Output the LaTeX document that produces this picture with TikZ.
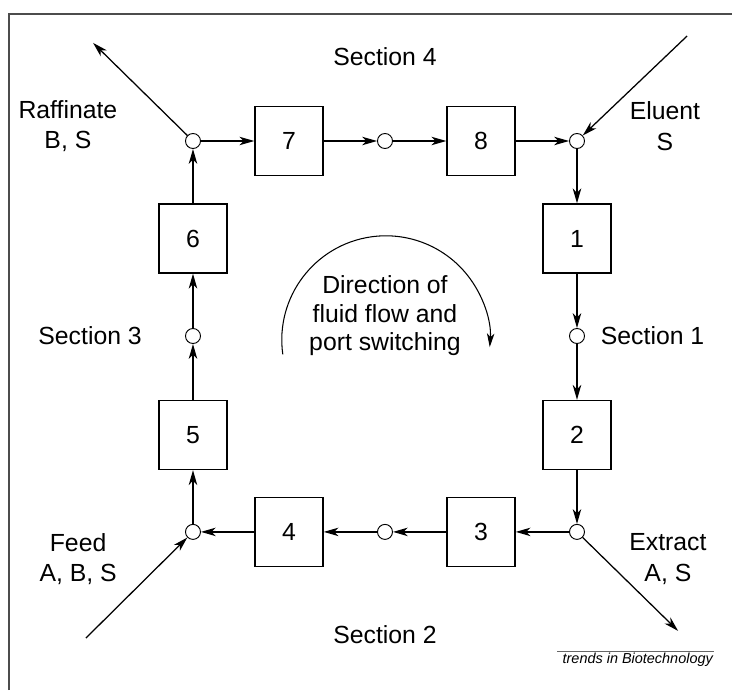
\documentclass[tikz,border=0pt]{standalone}
\usepackage{fontspec}
\setmainfont{Liberation Sans}
\usetikzlibrary{shapes, arrows.meta, positioning}

\begin{document}
\begin{tikzpicture}[
    column/.style={
        rectangle,
        minimum width=2.27cm,   minimum height=2.3cm,
        draw=black,
        line width=1.3pt,
        font=\fontsize{23.5}{27}\selectfont
    },
    port/.style={
        circle,
        minimum size=0.5cm,
        inner sep=0pt,
        draw=black,
        line width=0.9pt,
        fill=white
    },
    streamtext/.style={
        align=center,
        font=\fontsize{23.5}{29}\selectfont
    },
    flow/.style={line width=1.2pt, -{Stealth[length=14pt, width=8pt, inset=4pt]}},
    swirl/.style={line width=1pt, -{Stealth[length=13pt, width=7pt, inset=3.5pt]}}
]

\useasboundingbox (-12.833, -11.8) rectangle (11.567, 11.2);

\draw[black!70, line width=1.4pt] (-12.533, -11.8) -- (-12.533, 10.733) -- (11.567, 10.733);

% ports
\node[port] (raffport)    at (-6.4,  6.5)  {};
\node[port] (sec4port)    at ( 0,    6.5)  {};
\node[port] (eluentport)  at ( 6.4,  6.5)  {};
\node[port] (sec1port)    at ( 6.4,  0)    {};
\node[port] (extractport) at ( 6.4, -6.53) {};
\node[port] (sec2port)    at ( 0,   -6.53) {};
\node[port] (feedport)    at (-6.4, -6.53) {};
\node[port] (sec3port)    at (-6.4,  0)    {};

% columns
\node[column] (col1) at ( 6.4,  3.25) {1};
\node[column] (col2) at ( 6.4, -3.3)  {2};
\node[column] (col3) at ( 3.2, -6.53) {3};
\node[column] (col4) at (-3.2, -6.53) {4};
\node[column] (col5) at (-6.4, -3.3)  {5};
\node[column] (col6) at (-6.4,  3.25) {6};
\node[column] (col7) at (-3.2,  6.5)  {7};
\node[column] (col8) at ( 3.2,  6.5)  {8};

\draw[flow] (raffport) -- (col7);
\draw[flow] (col7) -- (sec4port);
\draw[flow] (sec4port) -- (col8);
\draw[flow] (col8) -- (eluentport);
\draw[flow] (eluentport) -- (col1);
\draw[flow] (col1) -- (sec1port);
\draw[flow] (sec1port) -- (col2);
\draw[flow] (col2) -- (extractport);
\draw[flow] (extractport) -- (col3);
\draw[flow] (col3) -- (sec2port);
\draw[flow] (sec2port) -- (col4);
\draw[flow] (col4) -- (feedport);
\draw[flow] (feedport) -- (col5);
\draw[flow] (col5) -- (sec3port);
\draw[flow] (sec3port) -- (col6);
\draw[flow] (col6) -- (raffport);

% inlet and outlet streams
\coordinate (raffout)    at (-9.73,  9.77);
\coordinate (eluentin)   at (10.07, 10.0);
\coordinate (feedin)     at (-9.97, -10.07);
\coordinate (extractout) at ( 9.77, -9.83);

\draw[flow] (raffport) -- (raffout);
\draw[flow] (eluentin) -- (eluentport);
\draw[flow] (feedin) -- (feedport);
\draw[flow] (extractport) -- (extractout);

\node[streamtext] (sec4text)    at (0, 9.3)        {Section 4};
\node[streamtext] (sec2text)    at (0, -9.97)      {Section 2};
\node[streamtext] (sec3text)    at (-9.83, 0)      {Section 3};
\node[streamtext] (sec1text)    at (8.92, 0)       {Section 1};
\node[streamtext] (rafftext)    at (-10.57, 7.0)   {Raffinate\\B, S};
\node[streamtext] (eluenttext)  at (9.33, 7.0)     {Eluent\\S};
\node[streamtext] (feedtext)    at (-10.23, -7.43) {Feed\\A, B, S};
\node[streamtext] (extracttext) at (9.43, -7.43)   {Extract\\A, S};

\node[streamtext, font=\fontsize{23.5}{27}\selectfont] (directiontext) at (0, 0.67)
    {Direction of\\fluid flow and\\port switching};
\coordinate (swirlcenter) at (0.03, -0.13);
\draw[swirl] ([shift={(188:3.47)}]swirlcenter) arc[start angle=188, end angle=-4, radius=3.47cm];

\node[anchor=north east, inner sep=1pt, font=\fontsize{13.7}{15}\selectfont\itshape]
    (credit) at (10.97, -10.52) {trends in Biotechnology};
\draw[black!60, line width=1pt] ([xshift=-4pt]credit.north west) -- (credit.north east);

\end{tikzpicture}
\end{document}
